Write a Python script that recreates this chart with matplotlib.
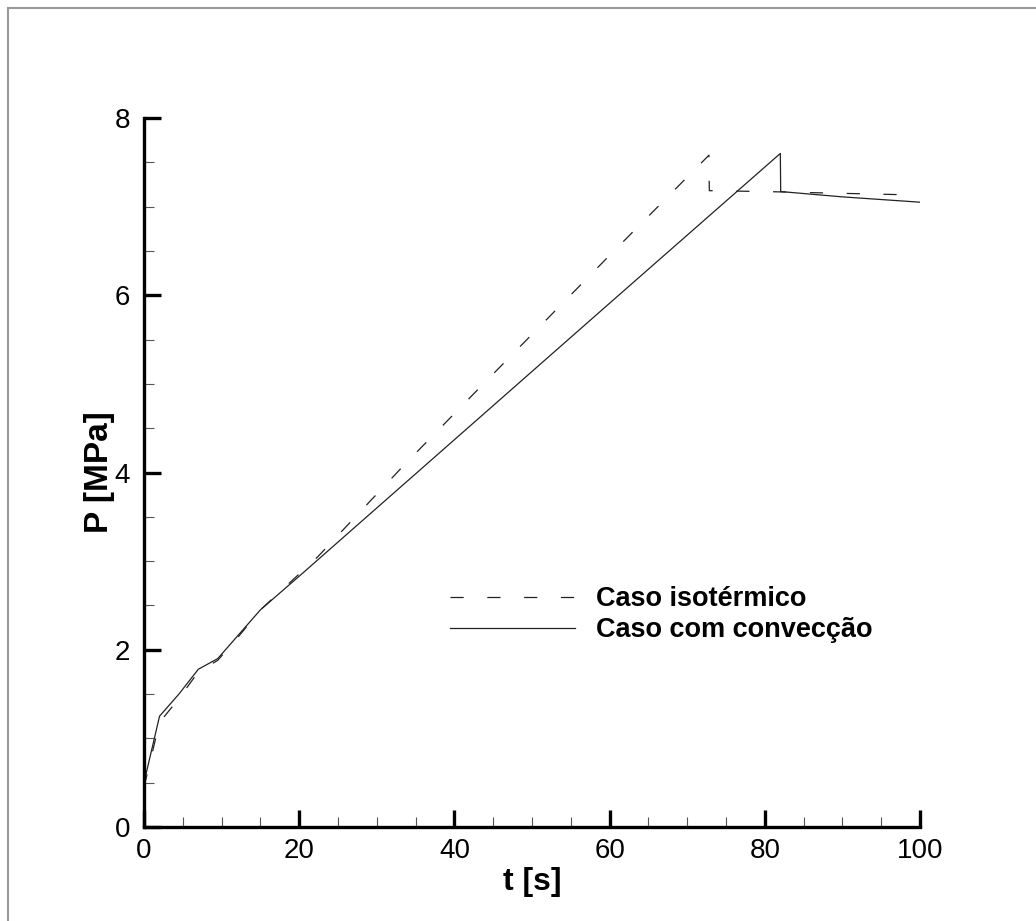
import numpy as np
import matplotlib
matplotlib.use('Agg')
import matplotlib.pyplot as plt
from matplotlib.lines import Line2D

plt.rcParams['font.family'] = ['Liberation Sans', 'DejaVu Sans']
plt.rcParams['lines.scale_dashes'] = False

# isothermal case (dashed)
t_iso = [0, 2, 4.5, 7, 9.5, 12, 15, 22.4, 33.8, 44.3, 60, 72.8, 72.85, 80, 90, 100]
p_iso = [0.45, 1.18, 1.45, 1.75, 1.88, 2.13, 2.45, 3.05, 4.11, 5.05, 6.45, 7.58, 7.18, 7.17, 7.15, 7.13]

# convection case (solid)
t_conv = [0, 2, 4.5, 7, 9.5, 12, 15, 20, 40, 60, 82, 82.05, 90, 100]
p_conv = [0.5, 1.25, 1.5, 1.78, 1.9, 2.15, 2.45, 2.83, 4.37, 5.91, 7.6, 7.17, 7.11, 7.05]

labels = ['Caso isotérmico', 'Caso com convecção']

fig = plt.figure(figsize=(10.36, 9.21), dpi=100)
ax = fig.add_axes([144/1036, 1 - 827/921, 776/1036, 709/921])

ax.plot(t_iso, p_iso, color='#222222', lw=0.9, dashes=(9.5, 17), label=labels[0])
ax.plot(t_conv, p_conv, color='#222222', lw=0.9, label=labels[1])

ax.set_xlim(0, 100)
ax.set_ylim(0, 8)
ax.set_xticks(np.arange(0, 101, 20))
ax.set_yticks(np.arange(0, 9, 2))
ax.set_xticks(np.arange(0, 101, 5), minor=True)
ax.set_yticks(np.arange(0, 8.1, 0.5), minor=True)

for s in ['top', 'right']:
    ax.spines[s].set_visible(False)
for s in ['left', 'bottom']:
    ax.spines[s].set_linewidth(2.4)
ax.tick_params(which='major', direction='in', length=12, width=2.4, labelsize=20)
ax.tick_params(axis='x', which='major', pad=8)
ax.tick_params(axis='y', which='major', pad=10)
ax.tick_params(which='minor', direction='in', length=7, width=0.8, color='#555555')

ax.set_xlabel('t [s]', fontsize=23, fontweight='bold', labelpad=2)
ax.set_ylabel('P [MPa]', fontsize=24, fontweight='bold', labelpad=0)

ax.legend(loc='upper left', bbox_to_anchor=(450/1036, 1 - 586/921),
          bbox_transform=fig.transFigure, frameon=False,
          prop={'weight': 'bold', 'size': 19.5}, handlelength=4.6,
          handletextpad=0.8, labelspacing=0.2, borderpad=0, borderaxespad=0)

# grey frame lines at the page edge
fig.add_artist(Line2D([8/1036, 8/1036], [0, 1 - 8/921], transform=fig.transFigure,
                      color='#999999', lw=1.5))
fig.add_artist(Line2D([8/1036, 1], [1 - 8/921, 1 - 8/921], transform=fig.transFigure,
                      color='#999999', lw=1.5))

fig.savefig('out.png', dpi=100)
